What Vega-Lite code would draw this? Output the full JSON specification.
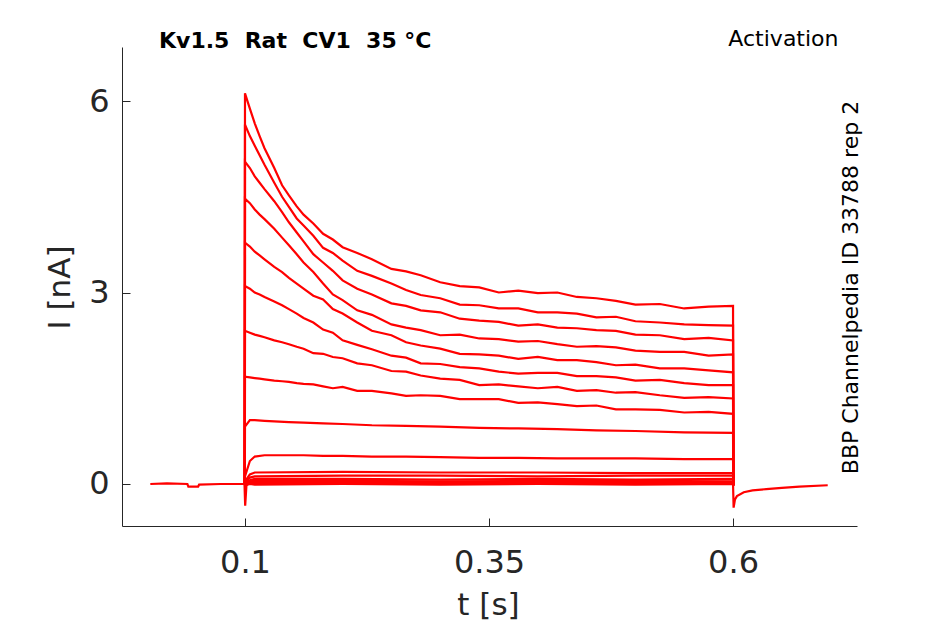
{
  "$schema": "https://vega.github.io/schema/vega-lite/v6.json",
  "width": 735,
  "height": 479,
  "autosize": {"type": "none"},
  "padding": {"left": 122, "top": 47, "right": 88, "bottom": 98},
  "background": "#ffffff",
  "title": {
    "text": "Kv1.5\u00a0\u00a0Rat\u00a0\u00a0CV1\u00a0\u00a035\u00a0°C",
    "anchor": "start",
    "frame": "group",
    "font": "DejaVu Sans",
    "fontSize": 22,
    "fontWeight": "bold",
    "color": "#000000",
    "dx": 37,
    "offset": -26
  },
  "config": {
    "view": {"stroke": null},
    "axis": {
      "grid": false,
      "domainColor": "#262626",
      "domainWidth": 1,
      "tickColor": "#262626",
      "tickWidth": 1,
      "labelFont": "DejaVu Sans",
      "labelColor": "#262626",
      "titleFont": "DejaVu Sans",
      "titleColor": "#262626",
      "titleFontWeight": "normal"
    }
  },
  "data": {
    "values": [
      {"k": 0, "t": 0.003, "i": 0.0}, {"k": 0, "t": 0.02, "i": 0.01}, {"k": 0, "t": 0.041, "i": 0.0},
      {"k": 0, "t": 0.042, "i": -0.04}, {"k": 0, "t": 0.052, "i": -0.04}, {"k": 0, "t": 0.053, "i": -0.01},
      {"k": 0, "t": 0.075, "i": 0.0}, {"k": 0, "t": 0.0995, "i": 0.0}, {"k": 0, "t": 0.1002, "i": -0.34},
      {"k": 0, "t": 0.1015, "i": -0.02}, {"k": 0, "t": 0.103, "i": 0.0}, {"k": 0, "t": 0.35, "i": 0.0},
      {"k": 0, "t": 0.6, "i": 0.0}, {"k": 0, "t": 0.6006, "i": -0.37}, {"k": 0, "t": 0.602, "i": -0.24},
      {"k": 0, "t": 0.604, "i": -0.19}, {"k": 0, "t": 0.611, "i": -0.13}, {"k": 0, "t": 0.62, "i": -0.1},
      {"k": 0, "t": 0.634, "i": -0.08}, {"k": 0, "t": 0.65, "i": -0.06}, {"k": 0, "t": 0.668, "i": -0.04},
      {"k": 0, "t": 0.697, "i": -0.02},

      {"k": 1, "t": 0.0998, "i": 0}, {"k": 1, "t": 0.1, "i": 6.12}, {"k": 1, "t": 0.105, "i": 5.88}, {"k": 1, "t": 0.11, "i": 5.65},
      {"k": 1, "t": 0.115, "i": 5.45}, {"k": 1, "t": 0.12, "i": 5.26}, {"k": 1, "t": 0.13, "i": 4.95}, {"k": 1, "t": 0.138, "i": 4.68},
      {"k": 1, "t": 0.145, "i": 4.52}, {"k": 1, "t": 0.153, "i": 4.35}, {"k": 1, "t": 0.16, "i": 4.22}, {"k": 1, "t": 0.17, "i": 4.08},
      {"k": 1, "t": 0.18, "i": 3.92}, {"k": 1, "t": 0.19, "i": 3.83}, {"k": 1, "t": 0.2, "i": 3.71}, {"k": 1, "t": 0.215, "i": 3.62},
      {"k": 1, "t": 0.23, "i": 3.52}, {"k": 1, "t": 0.25, "i": 3.37}, {"k": 1, "t": 0.265, "i": 3.33}, {"k": 1, "t": 0.28, "i": 3.27},
      {"k": 1, "t": 0.3, "i": 3.16}, {"k": 1, "t": 0.32, "i": 3.1}, {"k": 1, "t": 0.34, "i": 3.08}, {"k": 1, "t": 0.36, "i": 3.0},
      {"k": 1, "t": 0.38, "i": 3.03}, {"k": 1, "t": 0.4, "i": 2.99}, {"k": 1, "t": 0.42, "i": 3.0}, {"k": 1, "t": 0.44, "i": 2.93},
      {"k": 1, "t": 0.46, "i": 2.91}, {"k": 1, "t": 0.48, "i": 2.87}, {"k": 1, "t": 0.5, "i": 2.81}, {"k": 1, "t": 0.525, "i": 2.82},
      {"k": 1, "t": 0.55, "i": 2.75}, {"k": 1, "t": 0.575, "i": 2.78}, {"k": 1, "t": 0.6, "i": 2.79}, {"k": 1, "t": 0.6003, "i": -0.02},

      {"k": 2, "t": 0.0998, "i": 0}, {"k": 2, "t": 0.1, "i": 5.63}, {"k": 2, "t": 0.105, "i": 5.45}, {"k": 2, "t": 0.11, "i": 5.3},
      {"k": 2, "t": 0.115, "i": 5.15}, {"k": 2, "t": 0.12, "i": 5.0}, {"k": 2, "t": 0.13, "i": 4.72}, {"k": 2, "t": 0.138, "i": 4.5},
      {"k": 2, "t": 0.145, "i": 4.34}, {"k": 2, "t": 0.153, "i": 4.16}, {"k": 2, "t": 0.16, "i": 4.05}, {"k": 2, "t": 0.17, "i": 3.89},
      {"k": 2, "t": 0.18, "i": 3.7}, {"k": 2, "t": 0.19, "i": 3.62}, {"k": 2, "t": 0.2, "i": 3.5}, {"k": 2, "t": 0.215, "i": 3.34},
      {"k": 2, "t": 0.23, "i": 3.26}, {"k": 2, "t": 0.25, "i": 3.14}, {"k": 2, "t": 0.265, "i": 3.04}, {"k": 2, "t": 0.28, "i": 2.96},
      {"k": 2, "t": 0.3, "i": 2.91}, {"k": 2, "t": 0.32, "i": 2.81}, {"k": 2, "t": 0.34, "i": 2.8}, {"k": 2, "t": 0.36, "i": 2.75},
      {"k": 2, "t": 0.38, "i": 2.75}, {"k": 2, "t": 0.4, "i": 2.69}, {"k": 2, "t": 0.42, "i": 2.69}, {"k": 2, "t": 0.44, "i": 2.67},
      {"k": 2, "t": 0.46, "i": 2.61}, {"k": 2, "t": 0.48, "i": 2.62}, {"k": 2, "t": 0.5, "i": 2.55}, {"k": 2, "t": 0.525, "i": 2.53},
      {"k": 2, "t": 0.55, "i": 2.5}, {"k": 2, "t": 0.575, "i": 2.49}, {"k": 2, "t": 0.6, "i": 2.48}, {"k": 2, "t": 0.6003, "i": -0.02},

      {"k": 3, "t": 0.0998, "i": 0}, {"k": 3, "t": 0.1, "i": 5.05}, {"k": 3, "t": 0.105, "i": 4.95}, {"k": 3, "t": 0.11, "i": 4.82},
      {"k": 3, "t": 0.115, "i": 4.72}, {"k": 3, "t": 0.12, "i": 4.62}, {"k": 3, "t": 0.13, "i": 4.43}, {"k": 3, "t": 0.138, "i": 4.26},
      {"k": 3, "t": 0.145, "i": 4.1}, {"k": 3, "t": 0.153, "i": 3.94}, {"k": 3, "t": 0.16, "i": 3.8}, {"k": 3, "t": 0.17, "i": 3.6},
      {"k": 3, "t": 0.18, "i": 3.47}, {"k": 3, "t": 0.19, "i": 3.34}, {"k": 3, "t": 0.2, "i": 3.19}, {"k": 3, "t": 0.215, "i": 3.06},
      {"k": 3, "t": 0.23, "i": 2.97}, {"k": 3, "t": 0.25, "i": 2.83}, {"k": 3, "t": 0.265, "i": 2.79}, {"k": 3, "t": 0.28, "i": 2.72},
      {"k": 3, "t": 0.3, "i": 2.69}, {"k": 3, "t": 0.32, "i": 2.59}, {"k": 3, "t": 0.34, "i": 2.56}, {"k": 3, "t": 0.36, "i": 2.54},
      {"k": 3, "t": 0.38, "i": 2.48}, {"k": 3, "t": 0.4, "i": 2.5}, {"k": 3, "t": 0.42, "i": 2.45}, {"k": 3, "t": 0.44, "i": 2.44},
      {"k": 3, "t": 0.46, "i": 2.41}, {"k": 3, "t": 0.48, "i": 2.4}, {"k": 3, "t": 0.5, "i": 2.34}, {"k": 3, "t": 0.525, "i": 2.33},
      {"k": 3, "t": 0.55, "i": 2.27}, {"k": 3, "t": 0.575, "i": 2.29}, {"k": 3, "t": 0.6, "i": 2.25}, {"k": 3, "t": 0.6003, "i": -0.02},

      {"k": 4, "t": 0.0998, "i": 0}, {"k": 4, "t": 0.1, "i": 4.47}, {"k": 4, "t": 0.105, "i": 4.4}, {"k": 4, "t": 0.11, "i": 4.3},
      {"k": 4, "t": 0.115, "i": 4.22}, {"k": 4, "t": 0.12, "i": 4.15}, {"k": 4, "t": 0.13, "i": 4.0}, {"k": 4, "t": 0.138, "i": 3.86},
      {"k": 4, "t": 0.145, "i": 3.74}, {"k": 4, "t": 0.153, "i": 3.6}, {"k": 4, "t": 0.16, "i": 3.47}, {"k": 4, "t": 0.17, "i": 3.32},
      {"k": 4, "t": 0.18, "i": 3.14}, {"k": 4, "t": 0.19, "i": 2.97}, {"k": 4, "t": 0.2, "i": 2.88}, {"k": 4, "t": 0.215, "i": 2.72},
      {"k": 4, "t": 0.23, "i": 2.65}, {"k": 4, "t": 0.25, "i": 2.5}, {"k": 4, "t": 0.265, "i": 2.45}, {"k": 4, "t": 0.28, "i": 2.41},
      {"k": 4, "t": 0.3, "i": 2.33}, {"k": 4, "t": 0.32, "i": 2.34}, {"k": 4, "t": 0.34, "i": 2.28}, {"k": 4, "t": 0.36, "i": 2.27},
      {"k": 4, "t": 0.38, "i": 2.23}, {"k": 4, "t": 0.4, "i": 2.24}, {"k": 4, "t": 0.42, "i": 2.19}, {"k": 4, "t": 0.44, "i": 2.15},
      {"k": 4, "t": 0.46, "i": 2.16}, {"k": 4, "t": 0.48, "i": 2.14}, {"k": 4, "t": 0.5, "i": 2.09}, {"k": 4, "t": 0.525, "i": 2.07},
      {"k": 4, "t": 0.55, "i": 2.07}, {"k": 4, "t": 0.575, "i": 2.01}, {"k": 4, "t": 0.6, "i": 2.03}, {"k": 4, "t": 0.6003, "i": -0.02},

      {"k": 5, "t": 0.0998, "i": 0}, {"k": 5, "t": 0.1, "i": 3.78}, {"k": 5, "t": 0.105, "i": 3.72}, {"k": 5, "t": 0.11, "i": 3.64},
      {"k": 5, "t": 0.115, "i": 3.58}, {"k": 5, "t": 0.12, "i": 3.52}, {"k": 5, "t": 0.13, "i": 3.4}, {"k": 5, "t": 0.138, "i": 3.32},
      {"k": 5, "t": 0.145, "i": 3.23}, {"k": 5, "t": 0.153, "i": 3.14}, {"k": 5, "t": 0.16, "i": 3.06}, {"k": 5, "t": 0.17, "i": 2.95},
      {"k": 5, "t": 0.18, "i": 2.89}, {"k": 5, "t": 0.19, "i": 2.74}, {"k": 5, "t": 0.2, "i": 2.67}, {"k": 5, "t": 0.215, "i": 2.53},
      {"k": 5, "t": 0.23, "i": 2.4}, {"k": 5, "t": 0.25, "i": 2.33}, {"k": 5, "t": 0.265, "i": 2.22}, {"k": 5, "t": 0.28, "i": 2.17},
      {"k": 5, "t": 0.3, "i": 2.12}, {"k": 5, "t": 0.32, "i": 2.04}, {"k": 5, "t": 0.34, "i": 2.03}, {"k": 5, "t": 0.36, "i": 2.01},
      {"k": 5, "t": 0.38, "i": 1.96}, {"k": 5, "t": 0.4, "i": 1.99}, {"k": 5, "t": 0.42, "i": 1.94}, {"k": 5, "t": 0.44, "i": 1.94},
      {"k": 5, "t": 0.46, "i": 1.91}, {"k": 5, "t": 0.48, "i": 1.86}, {"k": 5, "t": 0.5, "i": 1.87}, {"k": 5, "t": 0.525, "i": 1.81},
      {"k": 5, "t": 0.55, "i": 1.81}, {"k": 5, "t": 0.575, "i": 1.78}, {"k": 5, "t": 0.6, "i": 1.75}, {"k": 5, "t": 0.6003, "i": -0.02},

      {"k": 6, "t": 0.0998, "i": 0}, {"k": 6, "t": 0.1, "i": 3.1}, {"k": 6, "t": 0.105, "i": 3.06}, {"k": 6, "t": 0.11, "i": 3.0},
      {"k": 6, "t": 0.115, "i": 2.97}, {"k": 6, "t": 0.12, "i": 2.93}, {"k": 6, "t": 0.13, "i": 2.86}, {"k": 6, "t": 0.138, "i": 2.8},
      {"k": 6, "t": 0.145, "i": 2.74}, {"k": 6, "t": 0.153, "i": 2.67}, {"k": 6, "t": 0.16, "i": 2.6}, {"k": 6, "t": 0.17, "i": 2.53},
      {"k": 6, "t": 0.18, "i": 2.42}, {"k": 6, "t": 0.19, "i": 2.37}, {"k": 6, "t": 0.2, "i": 2.25}, {"k": 6, "t": 0.215, "i": 2.18},
      {"k": 6, "t": 0.23, "i": 2.11}, {"k": 6, "t": 0.25, "i": 2.01}, {"k": 6, "t": 0.265, "i": 1.98}, {"k": 6, "t": 0.28, "i": 1.89},
      {"k": 6, "t": 0.3, "i": 1.88}, {"k": 6, "t": 0.32, "i": 1.83}, {"k": 6, "t": 0.34, "i": 1.81}, {"k": 6, "t": 0.36, "i": 1.76},
      {"k": 6, "t": 0.38, "i": 1.73}, {"k": 6, "t": 0.4, "i": 1.74}, {"k": 6, "t": 0.42, "i": 1.74}, {"k": 6, "t": 0.44, "i": 1.69},
      {"k": 6, "t": 0.46, "i": 1.69}, {"k": 6, "t": 0.48, "i": 1.67}, {"k": 6, "t": 0.5, "i": 1.62}, {"k": 6, "t": 0.525, "i": 1.63},
      {"k": 6, "t": 0.55, "i": 1.58}, {"k": 6, "t": 0.575, "i": 1.55}, {"k": 6, "t": 0.6, "i": 1.55}, {"k": 6, "t": 0.6003, "i": -0.02},

      {"k": 7, "t": 0.0998, "i": 0}, {"k": 7, "t": 0.1, "i": 2.4}, {"k": 7, "t": 0.105, "i": 2.37}, {"k": 7, "t": 0.11, "i": 2.34},
      {"k": 7, "t": 0.115, "i": 2.32}, {"k": 7, "t": 0.12, "i": 2.3}, {"k": 7, "t": 0.13, "i": 2.25}, {"k": 7, "t": 0.138, "i": 2.22},
      {"k": 7, "t": 0.145, "i": 2.19}, {"k": 7, "t": 0.153, "i": 2.15}, {"k": 7, "t": 0.16, "i": 2.12}, {"k": 7, "t": 0.17, "i": 2.05},
      {"k": 7, "t": 0.18, "i": 2.04}, {"k": 7, "t": 0.19, "i": 1.99}, {"k": 7, "t": 0.2, "i": 1.97}, {"k": 7, "t": 0.215, "i": 1.89},
      {"k": 7, "t": 0.23, "i": 1.86}, {"k": 7, "t": 0.25, "i": 1.77}, {"k": 7, "t": 0.265, "i": 1.76}, {"k": 7, "t": 0.28, "i": 1.7},
      {"k": 7, "t": 0.3, "i": 1.65}, {"k": 7, "t": 0.32, "i": 1.63}, {"k": 7, "t": 0.34, "i": 1.55}, {"k": 7, "t": 0.36, "i": 1.56},
      {"k": 7, "t": 0.38, "i": 1.53}, {"k": 7, "t": 0.4, "i": 1.5}, {"k": 7, "t": 0.42, "i": 1.52}, {"k": 7, "t": 0.44, "i": 1.46},
      {"k": 7, "t": 0.46, "i": 1.47}, {"k": 7, "t": 0.48, "i": 1.43}, {"k": 7, "t": 0.5, "i": 1.44}, {"k": 7, "t": 0.525, "i": 1.39},
      {"k": 7, "t": 0.55, "i": 1.35}, {"k": 7, "t": 0.575, "i": 1.36}, {"k": 7, "t": 0.6, "i": 1.34}, {"k": 7, "t": 0.6003, "i": -0.02},

      {"k": 8, "t": 0.0998, "i": 0}, {"k": 8, "t": 0.1, "i": 1.68}, {"k": 8, "t": 0.105, "i": 1.67}, {"k": 8, "t": 0.11, "i": 1.66},
      {"k": 8, "t": 0.115, "i": 1.65}, {"k": 8, "t": 0.12, "i": 1.64}, {"k": 8, "t": 0.13, "i": 1.62}, {"k": 8, "t": 0.138, "i": 1.61},
      {"k": 8, "t": 0.145, "i": 1.6}, {"k": 8, "t": 0.153, "i": 1.58}, {"k": 8, "t": 0.16, "i": 1.57}, {"k": 8, "t": 0.17, "i": 1.56},
      {"k": 8, "t": 0.18, "i": 1.53}, {"k": 8, "t": 0.19, "i": 1.5}, {"k": 8, "t": 0.2, "i": 1.52}, {"k": 8, "t": 0.215, "i": 1.46},
      {"k": 8, "t": 0.23, "i": 1.46}, {"k": 8, "t": 0.25, "i": 1.42}, {"k": 8, "t": 0.265, "i": 1.38}, {"k": 8, "t": 0.28, "i": 1.39},
      {"k": 8, "t": 0.3, "i": 1.38}, {"k": 8, "t": 0.32, "i": 1.33}, {"k": 8, "t": 0.34, "i": 1.33}, {"k": 8, "t": 0.36, "i": 1.33},
      {"k": 8, "t": 0.38, "i": 1.27}, {"k": 8, "t": 0.4, "i": 1.28}, {"k": 8, "t": 0.42, "i": 1.25}, {"k": 8, "t": 0.44, "i": 1.22},
      {"k": 8, "t": 0.46, "i": 1.23}, {"k": 8, "t": 0.48, "i": 1.17}, {"k": 8, "t": 0.5, "i": 1.17}, {"k": 8, "t": 0.525, "i": 1.16},
      {"k": 8, "t": 0.55, "i": 1.12}, {"k": 8, "t": 0.575, "i": 1.13}, {"k": 8, "t": 0.6, "i": 1.1}, {"k": 8, "t": 0.6003, "i": -0.02},

      {"k": 9, "t": 0.0998, "i": 0}, {"k": 9, "t": 0.1, "i": 0.9}, {"k": 9, "t": 0.105, "i": 1.0}, {"k": 9, "t": 0.11, "i": 1.0},
      {"k": 9, "t": 0.12, "i": 0.99}, {"k": 9, "t": 0.13, "i": 0.98}, {"k": 9, "t": 0.145, "i": 0.97}, {"k": 9, "t": 0.16, "i": 0.96},
      {"k": 9, "t": 0.18, "i": 0.95}, {"k": 9, "t": 0.2, "i": 0.94}, {"k": 9, "t": 0.23, "i": 0.92}, {"k": 9, "t": 0.265, "i": 0.91},
      {"k": 9, "t": 0.3, "i": 0.9}, {"k": 9, "t": 0.34, "i": 0.88}, {"k": 9, "t": 0.38, "i": 0.87}, {"k": 9, "t": 0.42, "i": 0.86},
      {"k": 9, "t": 0.46, "i": 0.84}, {"k": 9, "t": 0.5, "i": 0.83}, {"k": 9, "t": 0.55, "i": 0.81}, {"k": 9, "t": 0.6, "i": 0.8},
      {"k": 9, "t": 0.6003, "i": -0.02},

      {"k": 10, "t": 0.0998, "i": 0}, {"k": 10, "t": 0.1, "i": 0.12}, {"k": 10, "t": 0.105, "i": 0.36}, {"k": 10, "t": 0.11, "i": 0.43},
      {"k": 10, "t": 0.12, "i": 0.45}, {"k": 10, "t": 0.13, "i": 0.45}, {"k": 10, "t": 0.145, "i": 0.45}, {"k": 10, "t": 0.16, "i": 0.45},
      {"k": 10, "t": 0.18, "i": 0.44}, {"k": 10, "t": 0.2, "i": 0.44}, {"k": 10, "t": 0.23, "i": 0.43}, {"k": 10, "t": 0.265, "i": 0.43},
      {"k": 10, "t": 0.3, "i": 0.42}, {"k": 10, "t": 0.34, "i": 0.41}, {"k": 10, "t": 0.38, "i": 0.41}, {"k": 10, "t": 0.42, "i": 0.4},
      {"k": 10, "t": 0.46, "i": 0.4}, {"k": 10, "t": 0.5, "i": 0.4}, {"k": 10, "t": 0.55, "i": 0.39}, {"k": 10, "t": 0.6, "i": 0.39},
      {"k": 10, "t": 0.6003, "i": -0.02},

      {"k": 11, "t": 0.0998, "i": 0}, {"k": 11, "t": 0.1, "i": 0.04}, {"k": 11, "t": 0.105, "i": 0.15}, {"k": 11, "t": 0.11, "i": 0.18},
      {"k": 11, "t": 0.2, "i": 0.19}, {"k": 11, "t": 0.3, "i": 0.18}, {"k": 11, "t": 0.4, "i": 0.18}, {"k": 11, "t": 0.5, "i": 0.17},
      {"k": 11, "t": 0.6, "i": 0.17}, {"k": 11, "t": 0.6003, "i": -0.02},

      {"k": 12, "t": 0.0998, "i": 0}, {"k": 12, "t": 0.1, "i": 0.03}, {"k": 12, "t": 0.105, "i": 0.1}, {"k": 12, "t": 0.11, "i": 0.12},
      {"k": 12, "t": 0.2, "i": 0.13}, {"k": 12, "t": 0.3, "i": 0.13}, {"k": 12, "t": 0.4, "i": 0.12}, {"k": 12, "t": 0.5, "i": 0.13},
      {"k": 12, "t": 0.6, "i": 0.13}, {"k": 12, "t": 0.6003, "i": -0.02},

      {"k": 13, "t": 0.0998, "i": 0}, {"k": 13, "t": 0.1, "i": 0.02}, {"k": 13, "t": 0.105, "i": 0.06}, {"k": 13, "t": 0.11, "i": 0.08},
      {"k": 13, "t": 0.2, "i": 0.08}, {"k": 13, "t": 0.3, "i": 0.07}, {"k": 13, "t": 0.4, "i": 0.08}, {"k": 13, "t": 0.5, "i": 0.07},
      {"k": 13, "t": 0.6, "i": 0.08}, {"k": 13, "t": 0.6003, "i": -0.02},

      {"k": 14, "t": 0.0998, "i": 0}, {"k": 14, "t": 0.1, "i": 0.01}, {"k": 14, "t": 0.105, "i": 0.04}, {"k": 14, "t": 0.11, "i": 0.05},
      {"k": 14, "t": 0.2, "i": 0.05}, {"k": 14, "t": 0.3, "i": 0.04}, {"k": 14, "t": 0.4, "i": 0.05}, {"k": 14, "t": 0.5, "i": 0.05},
      {"k": 14, "t": 0.6, "i": 0.04}, {"k": 14, "t": 0.6003, "i": -0.02},

      {"k": 15, "t": 0.0998, "i": 0}, {"k": 15, "t": 0.1, "i": 0.0}, {"k": 15, "t": 0.105, "i": 0.02}, {"k": 15, "t": 0.11, "i": 0.02},
      {"k": 15, "t": 0.2, "i": 0.03}, {"k": 15, "t": 0.3, "i": 0.02}, {"k": 15, "t": 0.4, "i": 0.02}, {"k": 15, "t": 0.5, "i": 0.03},
      {"k": 15, "t": 0.6, "i": 0.02}, {"k": 15, "t": 0.6003, "i": -0.02},

      {"k": 16, "t": 0.0998, "i": 0}, {"k": 16, "t": 0.1, "i": -0.02}, {"k": 16, "t": 0.105, "i": 0.0}, {"k": 16, "t": 0.11, "i": -0.01},
      {"k": 16, "t": 0.2, "i": 0.0}, {"k": 16, "t": 0.3, "i": -0.01}, {"k": 16, "t": 0.4, "i": 0.0}, {"k": 16, "t": 0.5, "i": -0.01},
      {"k": 16, "t": 0.6, "i": 0.0}, {"k": 16, "t": 0.6003, "i": -0.02}
    ]
  },
  "layer": [
    {
      "transform": [{"filter": "datum.k > 0"}],
      "mark": {"type": "line", "color": "#ff0000", "strokeWidth": 2.2, "clip": true},
      "encoding": {
        "x": {
          "field": "t",
          "type": "quantitative",
          "scale": {"domain": [-0.026, 0.727], "nice": false, "zero": false},
          "axis": {
            "orient": "bottom",
            "values": [0.1, 0.35, 0.6],
            "labelExpr": "toString(datum.value)",
            "tickSize": -8,
            "labelFontSize": 32,
            "labelBaseline": "alphabetic",
            "labelPadding": 54,
            "labelFlush": false,
            "title": "t [s]",
            "titleFontSize": 31,
            "titleX": 366,
            "titleY": 88,
            "titleAlign": "center",
            "titleBaseline": "alphabetic"
          }
        },
        "y": {
          "field": "i",
          "type": "quantitative",
          "scale": {"domain": [-0.658, 6.846], "nice": false, "zero": false},
          "axis": {
            "orient": "left",
            "values": [0, 3, 6],
            "labelExpr": "toString(datum.value)",
            "tickSize": -8,
            "labelFontSize": 32,
            "labelPadding": 21,
            "labelFlush": false,
            "title": "I [nA]",
            "titleFontSize": 31,
            "titleAngle": 270,
            "titleX": -53,
            "titleY": 240,
            "titleAlign": "center",
            "titleBaseline": "alphabetic"
          }
        },
        "detail": {"field": "k", "type": "nominal"}
      }
    },
    {
      "transform": [{"filter": "datum.k == 0"}],
      "mark": {"type": "line", "color": "#ff0000", "strokeWidth": 2.2, "clip": true},
      "encoding": {
        "x": {
          "field": "t",
          "type": "quantitative",
          "axis": {
            "orient": "top",
            "domain": false,
            "ticks": false,
            "labels": false,
            "title": "Activation",
            "titleFontSize": 22,
            "titleColor": "#000000",
            "titleX": 716,
            "titleY": -2,
            "titleAlign": "right",
            "titleBaseline": "alphabetic"
          }
        },
        "y": {
          "field": "i",
          "type": "quantitative",
          "axis": {
            "orient": "right",
            "domain": false,
            "ticks": false,
            "labels": false,
            "title": "BBP Channelpedia ID 33788 rep 2",
            "titleFontSize": 22,
            "titleColor": "#000000",
            "titleAngle": 270,
            "titleX": 0,
            "titleY": 240,
            "titleAlign": "center",
            "titleBaseline": "alphabetic"
          }
        },
        "detail": {"field": "k", "type": "nominal"}
      }
    }
  ],
  "resolve": {"axis": {"x": "independent", "y": "independent"}}
}
